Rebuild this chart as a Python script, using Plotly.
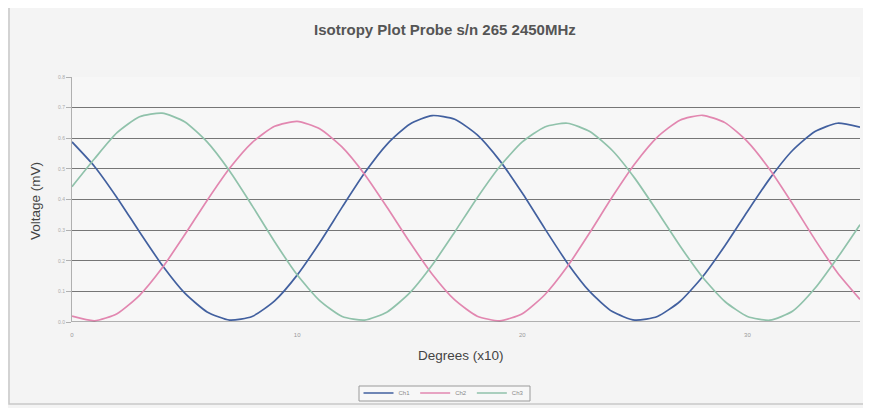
import plotly.graph_objects as go

degrees_x10 = list(range(36))
tick_vals = [0, 10, 20, 30]
tick_text = ["0", "10", "20", "30"]

ch1 = [0.588, 0.508, 0.406, 0.294, 0.186, 0.095, 0.033, 0.006, 0.018, 0.069,
       0.153, 0.259, 0.375, 0.487, 0.581, 0.646, 0.674, 0.662, 0.611, 0.527,
       0.421, 0.305, 0.193, 0.099, 0.034, 0.006, 0.018, 0.067, 0.147, 0.249,
       0.361, 0.469, 0.560, 0.622, 0.649, 0.636]
ch2 = [0.019, 0.004, 0.027, 0.087, 0.176, 0.284, 0.397, 0.502, 0.586, 0.639,
       0.655, 0.631, 0.571, 0.482, 0.374, 0.261, 0.156, 0.072, 0.019, 0.004,
       0.027, 0.089, 0.181, 0.292, 0.409, 0.517, 0.604, 0.659, 0.675, 0.651,
       0.589, 0.497, 0.386, 0.269, 0.161, 0.074]
ch3 = [0.442, 0.533, 0.618, 0.670, 0.682, 0.654, 0.588, 0.493, 0.380, 0.262,
       0.154, 0.070, 0.018, 0.006, 0.033, 0.095, 0.186, 0.294, 0.406, 0.508,
       0.588, 0.637, 0.649, 0.622, 0.560, 0.469, 0.361, 0.249, 0.147, 0.067,
       0.018, 0.006, 0.035, 0.110, 0.210, 0.318]

series = [("Ch1", ch1, "#42609f"), ("Ch2", ch2, "#e287b0"), ("Ch3", ch3, "#90c2ab")]

fig = go.Figure()
for name, vals, col in series:
    fig.add_trace(go.Scatter(x=degrees_x10, y=vals, mode="lines", name=name,
                             line=dict(color=col, width=1.7, shape="spline", smoothing=0.6)))

font_family = "Liberation Sans, Arial, sans-serif"

# plot area in page pixels: x 72..860, y 77..322 (page has 8px body offset)
PX0, PX1, PY0, PY1 = 72, 860, 77, 322
def px(x):
    return (x - PX0) / (PX1 - PX0)
def py(y):
    return (PY1 - y) / (PY1 - PY0)

fig.update_layout(
    width=863, height=400,
    margin=dict(l=64, r=11, t=69, b=86, autoexpand=False),
    paper_bgcolor="#f4f4f4",
    plot_bgcolor="#f7f7f7",
    font=dict(family=font_family, color="#555555"),
    showlegend=True,
    legend=dict(orientation="h", x=px(444), xanchor="center", y=py(393), yanchor="middle",
                bgcolor="rgba(0,0,0,0)", borderwidth=0,
                font=dict(size=6, color="#888888"), itemwidth=30,
                tracegroupgap=0),
    xaxis=dict(range=[0, 35], tickvals=tick_vals, ticktext=tick_text,
               showgrid=False, zeroline=False, showline=False,
               ticks="outside", ticklen=7, tickcolor="rgba(0,0,0,0)",
               tickfont=dict(size=6, color="#999999")),
    yaxis=dict(range=[0, 0.8], dtick=0.1, tickformat=".1f",
               showgrid=True, gridcolor="#767676", gridwidth=1,
               zeroline=False, showline=True, linecolor="#b0b0b0", linewidth=1,
               ticks="outside", ticklen=5, tickcolor="#b0b0b0",
               tickfont=dict(size=5, color="#aaaaaa")),
    annotations=[
        dict(text="<b>Isotropy Plot Probe s/n 265 2450MHz</b>", xref="paper", yref="paper",
             x=px(445), y=py(30), xanchor="center", yanchor="middle", showarrow=False,
             font=dict(size=15, color="#555555", family=font_family)),
        dict(text="Degrees (x10)", xref="paper", yref="paper",
             x=px(461), y=py(355), xanchor="center", yanchor="middle", showarrow=False,
             font=dict(size=13.5, color="#444444", family=font_family)),
        dict(text="Voltage (mV)", xref="paper", yref="paper",
             x=px(35), y=py(201), xanchor="center", yanchor="middle", showarrow=False,
             textangle=-90,
             font=dict(size=13.5, color="#444444", family=font_family)),
    ],
    shapes=[
        dict(type="rect", xref="paper", yref="paper",
             x0=px(9), x1=px(866), y0=py(404), y1=py(7),
             line=dict(color="#c8c8c8", width=1.5), fillcolor="rgba(0,0,0,0)", layer="below"),
        dict(type="rect", xref="paper", yref="paper",
             x0=px(359), x1=px(530), y0=py(401), y1=py(386),
             line=dict(color="#9a9a9a", width=1), fillcolor="#f7f7f7", layer="below"),
        dict(type="line", xref="paper", yref="y", x0=0, x1=1, y0=0, y1=0,
             line=dict(color="#6a6a6a", width=1.2)),
    ],
)

fig.write_html("out.html")
